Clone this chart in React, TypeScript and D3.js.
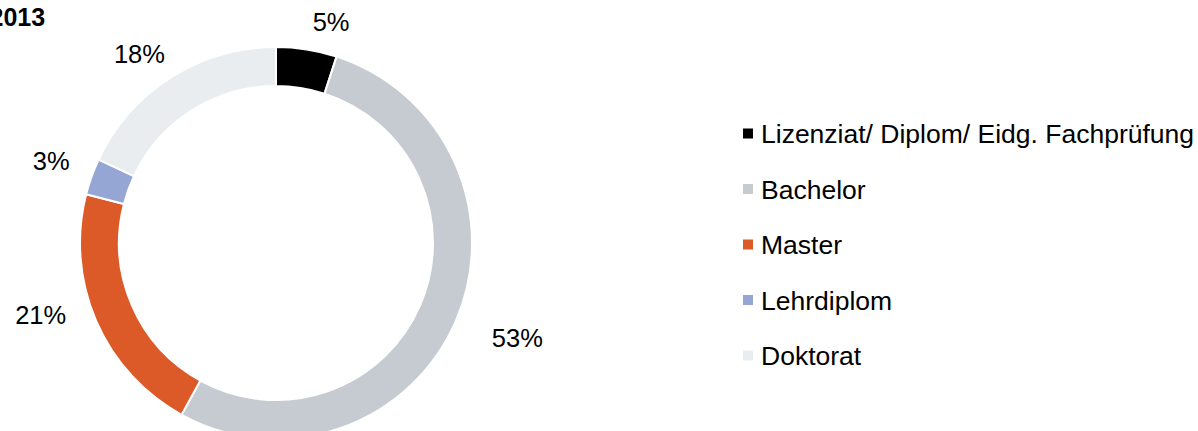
import React from "react";
import * as d3 from "d3";

const title = "2013";
const categories = [
  "Lizenziat/ Diplom/ Eidg. Fachprüfung",
  "Bachelor",
  "Master",
  "Lehrdiplom",
  "Doktorat",
];
const values = [5, 53, 21, 3, 18];
const colors = ["#000000", "#C5CBD1", "#DC5A27", "#95A6D4", "#E9EDF0"];
// small nudges applied to data labels (px), mimicking the original label placement
const labelNudges: [number, number][] = [
  [19, 7],
  [16, -3],
  [-10, -26],
  [0, -1],
  [-8, 14],
];

const W = 1198;
const H = 431;
const cx = 276;
const cy = 243;
const outerR = 196;
const innerR = 157;
const labelFont = 25.5;
const legendFont = 26.5;
const FONT = "'Liberation Sans', Arial, sans-serif";

export default function App() {
  const pie = d3
    .pie<number>()
    .sort(null)
    .value((d) => d)
    .startAngle(0)
    .endAngle(2 * Math.PI);
  const arcs = pie(values);
  const arcGen = d3
    .arc<d3.PieArcDatum<number>>()
    .innerRadius(innerR)
    .outerRadius(outerR);

  const legendY = d3
    .scalePoint<string>()
    .domain(categories)
    .range([133.5, 355.5]);

  return (
    <svg
      width={W}
      height={H}
      style={{ position: "absolute", left: 0, top: 0, background: "#fff" }}
      fontFamily={FONT}
    >
      <text x={-10.5} y={26} fontSize={25} fontWeight="bold" fill="#000">
        {title}
      </text>
      <g transform={`translate(${cx},${cy})`}>
        {arcs.map((a, i) => (
          <path
            key={i}
            d={arcGen(a) || ""}
            fill={colors[i]}
            stroke="#fff"
            strokeWidth={2}
          />
        ))}
        {arcs.map((a, i) => {
          const mid = (a.startAngle + a.endAngle) / 2;
          const s = Math.sin(mid);
          const c = -Math.cos(mid);
          const label = `${values[i]}%`;
          const w = label.length === 2 ? 36 : 50;
          const h = 18;
          const r = outerR + 23 + (w / 2) * Math.abs(s) + (h / 2) * Math.abs(c);
          const x = r * s + labelNudges[i][0];
          const y = r * c + labelNudges[i][1];
          return (
            <text
              key={"l" + i}
              x={x}
              y={y + 9}
              textAnchor="middle"
              fontSize={labelFont}
              fill="#000"
            >
              {label}
            </text>
          );
        })}
      </g>
      {categories.map((cat, i) => {
        const yc = legendY(cat) as number;
        return (
          <g key={"lg" + i}>
            <rect x={743} y={yc - 5} width={10} height={10} fill={colors[i]} />
            <text
              x={761}
              y={yc + 9.5}
              fontSize={legendFont}
              fill="#000"
            >
              {cat}
            </text>
          </g>
        );
      })}
    </svg>
  );
}
